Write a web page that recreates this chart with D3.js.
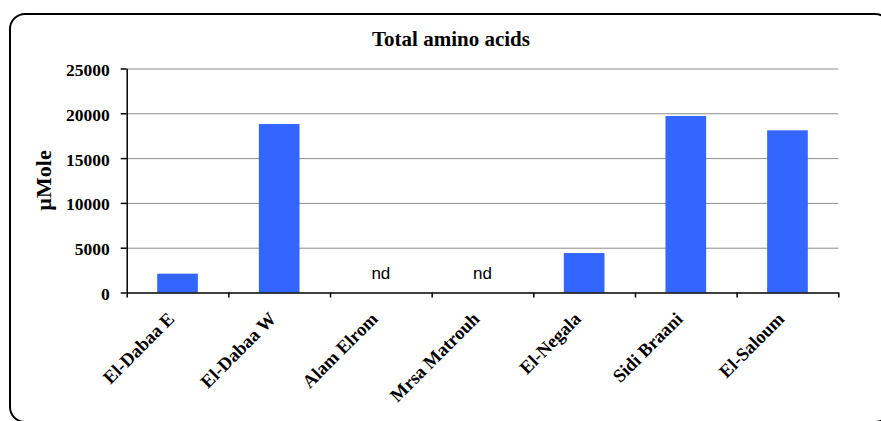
<!DOCTYPE html>
<html>
<head>
<meta charset="utf-8">
<script src="https://cdn.jsdelivr.net/npm/d3@7"></script>
<style>
  html, body { margin: 0; padding: 0; background: #fff; }
  svg { display: block; }
  .serif { font-family: "Liberation Serif", "Times New Roman", serif; font-weight: bold; }
</style>
</head>
<body>
<svg id="chart" width="881" height="421"></svg>
<script>
// Sampling sites and total amino acid content (µMole); null = not detected
const sites = ["El-Dabaa E", "El-Dabaa W", "Alam Elrom", "Mrsa Matrouh", "El-Negala", "Sidi Braani", "El-Saloum"];
const totalAmino = [2100, 18800, null, null, 4400, 19700, 18100];
const yTicks = [0, 5000, 10000, 15000, 20000, 25000];
const chartTitle = "Total amino acids";
const yLabel = "µMole";
const missingLabel = "nd";

const svg = d3.select("#chart");

// Frame around the whole figure
svg.append("rect")
  .attr("x", 10).attr("y", 14)
  .attr("width", 880).attr("height", 408)
  .attr("rx", 15).attr("ry", 15)
  .attr("fill", "none").attr("stroke", "#000").attr("stroke-width", 2);

const plot = { left: 126.7, right: 838.3, top: 68.5, bottom: 292.5 };

const x = d3.scaleBand()
  .domain(sites)
  .range([plot.left, plot.right])
  .paddingInner(0.6)
  .paddingOuter(0.3);

const y = d3.scaleLinear()
  .domain([0, 25000])
  .range([plot.bottom, plot.top]);

// Horizontal gridlines
svg.append("g")
  .attr("transform", `translate(${plot.left},0)`)
  .call(d3.axisLeft(y).tickValues(yTicks.filter(v => v > 0)).tickSize(-(plot.right - plot.left)).tickFormat(""))
  .call(g => g.select(".domain").remove())
  .call(g => g.selectAll("line").attr("stroke", "#8c8c8c").attr("stroke-width", 1));

// Bars
const data = sites.map((s, i) => ({ site: s, value: totalAmino[i] }));
svg.append("g").selectAll("rect")
  .data(data.filter(d => d.value != null))
  .join("rect")
  .attr("x", d => x(d.site))
  .attr("y", d => y(d.value))
  .attr("width", x.bandwidth())
  .attr("height", d => y(0) - y(d.value))
  .attr("fill", "#3366ff");

// "not detected" markers
svg.append("g").selectAll("text")
  .data(data.filter(d => d.value == null))
  .join("text")
  .attr("x", d => x(d.site) + x.bandwidth() / 2)
  .attr("y", 279)
  .attr("text-anchor", "middle")
  .attr("font-family", "'Liberation Sans', Arial, sans-serif")
  .attr("font-size", 17)
  .text(missingLabel);

// Y axis
const yAxis = svg.append("g")
  .attr("transform", `translate(${plot.left},0)`)
  .call(d3.axisLeft(y).tickValues(yTicks).tickSize(6).tickPadding(11).tickSizeOuter(0).tickFormat(d3.format("d")));
yAxis.select(".domain").attr("stroke", "#000").attr("stroke-width", 1.5);
yAxis.selectAll("line").attr("stroke", "#000").attr("stroke-width", 1.5);
yAxis.selectAll("text")
  .attr("class", "serif")
  .attr("font-size", 17.5)
  .attr("fill", "#000")
  .attr("dy", "0.4em");

// X axis: ticks sit on the category boundaries
const bounds = d3.scaleLinear().domain([0, sites.length]).range([plot.left, plot.right]);
const xAxis = svg.append("g")
  .attr("transform", `translate(0,${plot.bottom})`)
  .call(d3.axisBottom(bounds).tickValues(d3.range(sites.length + 1)).tickSize(5).tickSizeOuter(0).tickFormat(""));
xAxis.select(".domain").attr("stroke", "#000").attr("stroke-width", 1.5);
xAxis.selectAll("line").attr("stroke", "#000").attr("stroke-width", 1.5);

// Rotated category labels
svg.append("g").selectAll("text")
  .data(sites)
  .join("text")
  .attr("class", "serif")
  .attr("font-size", 18.5)
  .attr("text-anchor", "end")
  .attr("transform", d => `translate(${x(d) + x.bandwidth() / 2 - 2},320) rotate(-45)`)
  .text(d => d);

// Title
svg.append("text")
  .attr("class", "serif")
  .attr("x", 451).attr("y", 46)
  .attr("text-anchor", "middle")
  .attr("font-size", 21)
  .text(chartTitle);

// Y axis title
svg.append("text")
  .attr("class", "serif")
  .attr("transform", `translate(51,${(plot.top + plot.bottom) / 2}) rotate(-90)`)
  .attr("text-anchor", "middle")
  .attr("font-size", 22)
  .text(yLabel);
</script>
</body>
</html>
